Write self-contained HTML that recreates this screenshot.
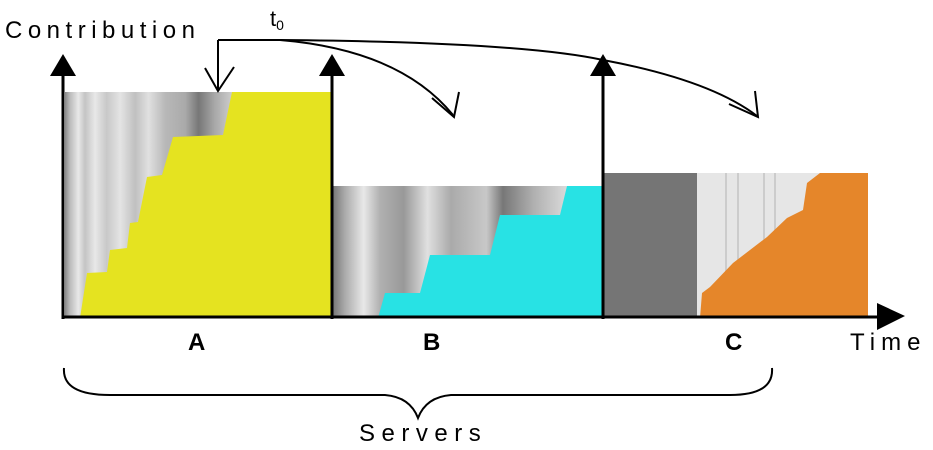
<!DOCTYPE html>
<html><head><style>body{margin:0;background:#fff}svg{display:block}</style></head>
<body>
<svg width="933" height="450" viewBox="0 0 933 450" xmlns="http://www.w3.org/2000/svg">
<defs>
<linearGradient id="ga" x1="0" x2="1">
<stop offset="0" stop-color="#888"/><stop offset="0.03" stop-color="#bbb"/><stop offset="0.08" stop-color="#e8e8e8"/><stop offset="0.12" stop-color="#c4c4c4"/><stop offset="0.18" stop-color="#e8e8e8"/><stop offset="0.25" stop-color="#c8c8c8"/><stop offset="0.33" stop-color="#e4e4e4"/><stop offset="0.42" stop-color="#c0c0c0"/><stop offset="0.5" stop-color="#e0e0e0"/><stop offset="0.6" stop-color="#b8b8b8"/><stop offset="0.72" stop-color="#aaa"/><stop offset="0.8" stop-color="#777"/><stop offset="0.9" stop-color="#aaa"/><stop offset="1" stop-color="#ccc"/>
</linearGradient>
<linearGradient id="gb" x1="0" x2="1">
<stop offset="0" stop-color="#777"/><stop offset="0.05" stop-color="#aaa"/><stop offset="0.13" stop-color="#e8e8e8"/><stop offset="0.2" stop-color="#b0b0b0"/><stop offset="0.3" stop-color="#999"/><stop offset="0.4" stop-color="#e0e0e0"/><stop offset="0.5" stop-color="#aaa"/><stop offset="0.65" stop-color="#c8c8c8"/><stop offset="0.72" stop-color="#777"/><stop offset="0.85" stop-color="#b0b0b0"/><stop offset="1" stop-color="#ddd"/>
</linearGradient>
</defs>
<rect x="65" y="92" width="167" height="226" fill="url(#ga)"/>
<polygon points="80,318 87,273 107,272 110,250 127,248 130,223 138,222 147,177 162,175 173,137 223,135 232,92 332,92 332,318" fill="#e5e320"/>
<rect x="333" y="186" width="236" height="132" fill="url(#gb)"/>
<polygon points="378,318 385,293 420,293 430,255 490,255 500,215 560,215 567,186 603,186 603,318" fill="#28e2e4"/>
<rect x="603" y="173" width="94" height="145" fill="#757575"/>
<rect x="697" y="173" width="125" height="145" fill="#e6e6e6"/>
<g stroke="#ccc" stroke-width="2"><line x1="726" y1="173" x2="726" y2="300"/><line x1="738" y1="173" x2="738" y2="280"/><line x1="764" y1="173" x2="764" y2="250"/><line x1="775" y1="173" x2="775" y2="240"/></g>
<polygon points="700,318 702,293 710,287 733,263 767,237 787,218 803,210 807,183 820,173 868,173 868,318" fill="#e5862a"/>
<g stroke="#000" stroke-width="3" fill="none">
<line x1="63" y1="70" x2="63" y2="319"/>
<line x1="332" y1="70" x2="332" y2="319"/>
<line x1="603" y1="70" x2="603" y2="319"/>
<line x1="62" y1="317" x2="880" y2="317"/>
</g>
<g fill="#000">
<polygon points="63,54 50,76 76,76"/>
<polygon points="332,54 319,76 345,76"/>
<polygon points="603,54 590,76 616,76"/>
<polygon points="877,303 905,316 877,330"/>
</g>
<g stroke="#000" stroke-width="2" fill="none">
<path d="M218,40 L218,90"/>
<path d="M205,68 L218,91 L234,67"/>
<path d="M218,40 L280,40 Q400,50 453,115"/>
<path d="M432,98 L454,117 L459,92"/>
<path d="M218,40 L280,40 Q520,42 603,60 Q710,80 757,116"/>
<path d="M729,104 L758,117 L755,91"/>
<path d="M64,368 Q62,395 110,395 L385,395 Q410,397 418,418 Q426,397 451,395 L730,395 Q774,395 772,368"/>
</g>
<g font-family="Liberation Sans, sans-serif" fill="#000">
<text x="5" y="38" font-size="24" letter-spacing="5.5">Contribution</text>
<text x="270" y="26" font-size="22">t<tspan font-size="14" dy="4">0</tspan></text>
<text x="188" y="350" font-size="24" font-weight="bold">A</text>
<text x="423" y="350" font-size="24" font-weight="bold">B</text>
<text x="725" y="350" font-size="24" font-weight="bold">C</text>
<text x="850" y="350" font-size="24" letter-spacing="6">Time</text>
<text x="359" y="441" font-size="24" letter-spacing="6.5">Servers</text>
</g>
</svg>
</body></html>
